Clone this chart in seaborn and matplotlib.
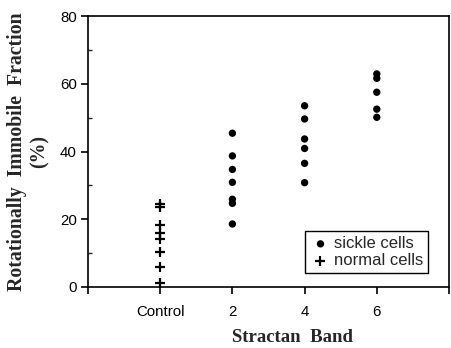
import matplotlib
matplotlib.use("Agg")
import matplotlib.pyplot as plt
import seaborn as sns
import pandas as pd
from matplotlib.ticker import MultipleLocator

# Data
sickle_band = [2, 2, 2, 2, 2, 2, 2,
               4, 4, 4, 4, 4, 4,
               6, 6, 6, 6, 6]
sickle_frac = [45.4, 38.7, 34.7, 30.9, 25.9, 24.7, 18.6,
               53.5, 49.6, 43.7, 40.9, 36.5, 30.8,
               62.9, 61.6, 57.5, 52.5, 50.1]
normal_band = [0, 0, 0, 0, 0, 0, 0, 0]
normal_frac = [24.5, 23.6, 18.3, 15.8, 14.3, 10.4, 5.8, 1.3]

x_ticks = [-2, 0, 2, 4, 6, 8]
x_tick_labels = ["", "Control", "2", "4", "6", ""]
y_ticks = [0, 20, 40, 60, 80]

sickle = pd.DataFrame({"band": sickle_band, "frac": sickle_frac})
normal = pd.DataFrame({"band": normal_band, "frac": normal_frac})

sns.set_theme(style="ticks")
plt.rcParams["font.family"] = ["Liberation Sans", "DejaVu Sans"]

fig = plt.figure(figsize=(4.52, 3.48), dpi=100)
ax = fig.add_axes([88 / 452, 1 - 287 / 348, (449 - 88) / 452, (287 - 16) / 348])

sns.scatterplot(data=sickle, x="band", y="frac", marker="o", s=28,
                color="black", edgecolor="none", ax=ax, label="sickle cells")
sns.scatterplot(data=normal, x="band", y="frac", marker="+", s=55,
                color="black", linewidth=1.6, ax=ax, label="normal cells")

ax.set_xlim(-2, 8)
ax.set_ylim(0, 80)
ax.set_xticks(x_ticks)
ax.set_xticklabels(x_tick_labels)
ax.set_yticks(y_ticks)
ax.yaxis.set_minor_locator(MultipleLocator(10))

for s in ax.spines.values():
    s.set_visible(True)
    s.set_linewidth(1.2)
    s.set_color("black")

ax.tick_params(axis="x", direction="out", length=5, width=1.2, pad=8,
               labelsize=10.8, colors="black")
ax.tick_params(axis="y", which="major", direction="out", length=5, width=1.2,
               pad=3, labelsize=10.8, colors="black")
ax.tick_params(axis="y", which="minor", direction="in", length=3, width=1.0)

serif = ["Liberation Serif", "DejaVu Serif"]
ax.set_xlabel("Stractan  Band", fontsize=13.5, fontweight="bold",
              family=serif, va="center")
ax.xaxis.set_label_coords(0.566, -0.185)
ax.set_ylabel("Rotationally  Immobile  Fraction\n(%)", fontsize=14.2,
              fontweight="bold", family=serif, linespacing=1.2, va="center")
ax.yaxis.set_label_coords(-0.165, 0.5)

leg = ax.legend(loc="lower right", bbox_to_anchor=(0.942, 0.052),
                borderaxespad=0, frameon=True, fancybox=False,
                edgecolor="black", fontsize=12, handletextpad=0.2,
                borderpad=0.3, labelspacing=0.1, handlelength=1.2)
leg.get_frame().set_linewidth(1.0)
leg.get_frame().set_alpha(1)

fig.savefig("out.png", dpi=100)
